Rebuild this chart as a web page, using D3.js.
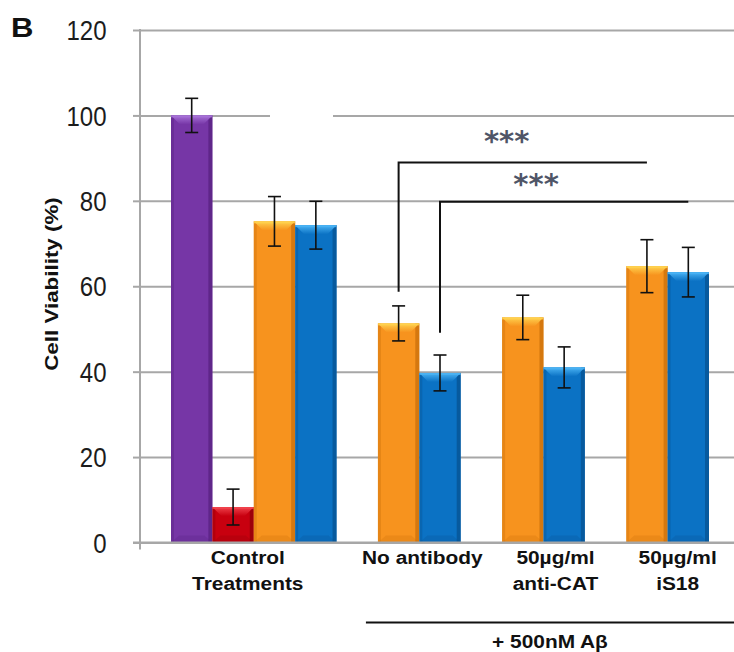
<!DOCTYPE html>
<html>
<head>
<meta charset="utf-8">
<script src="https://cdn.jsdelivr.net/npm/d3@7"></script>
<style>
  body { margin: 0; background: #fff; }
  svg { display: block; }
</style>
</head>
<body>
<svg id="chart" width="734" height="652"></svg>
<script>
// --- data ---
const categoryLines = [["Control", "Treatments"], ["No antibody"], ["50µg/ml", "anti-CAT"], ["50µg/ml", "iS18"]];
const controlValues = [100, 8.3, 75.2, 74.3];
const controlErrors = [4, 4.2, 5.8, 5.6];
const abetaOrange = [51.3, 52.7, 64.7];
const abetaOrangeErr = [4.1, 5.2, 6.2];
const abetaBlue = [39.7, 41, 63.3];
const abetaBlueErr = [4.2, 4.8, 5.8];
const yTicks = [0, 20, 40, 60, 80, 100, 120];
const sigBrackets = [
  { from: "g1-0", to: "g3-0", low: 58.7, high: 89, label: "***" },
  { from: "g1-1", to: "g3-1", low: 49.1, high: 79.8, label: "***" }
];

// --- look ---
const palette = {
  purple: { base: "#7636a6", light: "#a872d8", dark: "#55207e" },
  red:    { base: "#c8000f", light: "#f0424c", dark: "#8a0009" },
  orange: { base: "#f7931e", light: "#ffd24f", dark: "#c66c08" },
  blue:   { base: "#0b72c4", light: "#4ab3f4", dark: "#06508e" }
};
const controlColors = ["purple", "red", "orange", "blue"];
const labelShift = [-6, 3, 12, 10];
const starPos = [{ fx: 0.435, dy: -11 }, { fx: 0.387, dy: -7.5 }];
const plotLeft = 140, plotRight = 734, plotTop = 30, plotBottom = 542.5;

const svg = d3.select("#chart");

// build bar list and slot domain (empty slot between groups)
const bars = [];
controlValues.forEach((v, i) => bars.push({ group: 0, key: "g0-" + i, value: v, err: controlErrors[i], color: controlColors[i] }));
abetaOrange.forEach((v, i) => {
  bars.push({ group: i + 1, key: "g" + (i + 1) + "-0", value: v, err: abetaOrangeErr[i], color: "orange" });
  bars.push({ group: i + 1, key: "g" + (i + 1) + "-1", value: abetaBlue[i], err: abetaBlueErr[i], color: "blue" });
});
const slots = [];
categoryLines.forEach((c, g) => {
  bars.filter(b => b.group === g).forEach(b => slots.push(b.key));
  if (g < categoryLines.length - 1) slots.push("gap" + g);
});

const x = d3.scaleBand().domain(slots).range([171, 709]).padding(0);
const y = d3.scaleLinear().domain([0, 120]).range([plotBottom, plotTop]);
const bw = x.bandwidth();
const cx = key => x(key) + bw / 2;

// gridlines
const grid = svg.append("g")
  .attr("transform", "translate(" + plotLeft + ",0)")
  .call(d3.axisLeft(y).tickValues(yTicks).tickSize(-(plotRight - plotLeft)).tickFormat(""));
grid.select(".domain").remove();
grid.selectAll("line").attr("stroke", "#a7a7a7").attr("stroke-width", 2);

// the gap in the 100 line
svg.append("rect")
  .attr("x", 270).attr("y", y(100) - 3).attr("width", 63).attr("height", 6)
  .attr("fill", "#fff");

// y axis with ticks and labels
const yAxisG = svg.append("g")
  .attr("transform", "translate(" + plotLeft + ",0)")
  .call(d3.axisLeft(y).tickValues(yTicks).tickSize(7).tickPadding(16));
yAxisG.select(".domain").remove();
yAxisG.selectAll(".tick line").attr("stroke", "#a7a7a7").attr("stroke-width", 2);
yAxisG.selectAll(".tick text")
  .attr("font-family", "Liberation Sans, Arial, sans-serif")
  .attr("font-size", 27)
  .attr("fill", "#1c1c1c")
  .attr("dy", "0.36em")
  .attr("transform", "translate(-13,0) scale(0.89,1)");

svg.append("line")
  .attr("x1", plotLeft).attr("x2", plotLeft)
  .attr("y1", plotTop - 1).attr("y2", plotBottom + 7)
  .attr("stroke", "#a7a7a7").attr("stroke-width", 2);

// bars with bevel look
const defs = svg.append("defs");
Object.keys(palette).forEach(k => {
  const gr = defs.append("linearGradient").attr("id", "top-" + k)
    .attr("x1", 0).attr("y1", 0).attr("x2", 0).attr("y2", 1);
  gr.append("stop").attr("offset", "0%").attr("stop-color", palette[k].light);
  gr.append("stop").attr("offset", "100%").attr("stop-color", palette[k].base);
});

const barG = svg.append("g").selectAll("g").data(bars).enter().append("g");

barG.append("rect")
  .attr("x", d => x(d.key)).attr("y", d => y(d.value))
  .attr("width", bw).attr("height", d => y(0) - y(d.value))
  .attr("fill", d => palette[d.color].base);

barG.append("rect")
  .attr("x", d => x(d.key)).attr("y", d => y(d.value))
  .attr("width", 3).attr("height", d => y(0) - y(d.value))
  .attr("fill", d => palette[d.color].dark).attr("opacity", 0.35);

barG.append("rect")
  .attr("x", d => x(d.key) + bw - 4).attr("y", d => y(d.value))
  .attr("width", 4).attr("height", d => y(0) - y(d.value))
  .attr("fill", d => palette[d.color].dark).attr("opacity", 0.7);

barG.append("path")
  .attr("d", d => {
    const x0 = x(d.key), t = y(d.value);
    return "M" + x0 + "," + t + "H" + (x0 + bw) + "L" + (x0 + bw - 9) + "," + (t + 9) + "H" + (x0 + 9) + "Z";
  })
  .attr("fill", d => "url(#top-" + d.color + ")");

barG.append("rect")
  .attr("x", d => x(d.key)).attr("y", d => y(d.value))
  .attr("width", bw).attr("height", 2)
  .attr("fill", d => palette[d.color].light).attr("opacity", 0.8);

barG.append("path")
  .attr("d", d => {
    const x0 = x(d.key), b = y(0);
    return "M" + x0 + "," + b + "H" + (x0 + bw) + "L" + (x0 + bw - 8) + "," + (b - 7) + "H" + (x0 + 8) + "Z";
  })
  .attr("fill", d => palette[d.color].dark).attr("opacity", 0.25);

// x axis baseline
svg.append("line")
  .attr("x1", plotLeft - 7).attr("x2", plotRight)
  .attr("y1", y(0)).attr("y2", y(0))
  .attr("stroke", "#a7a7a7").attr("stroke-width", 2);

// error bars
const errG = svg.append("g").attr("stroke", "#111").attr("stroke-width", 1.6);
bars.forEach(d => {
  const c = cx(d.key);
  errG.append("line").attr("x1", c).attr("x2", c).attr("y1", y(d.value + d.err)).attr("y2", y(d.value - d.err));
  errG.append("line").attr("x1", c - 6.5).attr("x2", c + 6.5).attr("y1", y(d.value + d.err)).attr("y2", y(d.value + d.err));
  errG.append("line").attr("x1", c - 6.5).attr("x2", c + 6.5).attr("y1", y(d.value - d.err)).attr("y2", y(d.value - d.err));
});

// significance brackets
sigBrackets.forEach((s, i) => {
  const x1 = cx(s.from), x2 = cx(s.to);
  svg.append("path")
    .attr("d", "M" + x1 + "," + y(s.low) + "V" + y(s.high) + "H" + x2)
    .attr("fill", "none").attr("stroke", "#111").attr("stroke-width", 2);
  svg.append("text")
    .attr("x", x1 + (x2 - x1) * starPos[i].fx)
    .attr("y", y(s.high) + starPos[i].dy)
    .attr("text-anchor", "middle")
    .attr("font-family", "DejaVu Sans, sans-serif")
    .attr("font-weight", "bold")
    .attr("font-size", 29)
    .attr("fill", "#4f5567")
    .text(s.label);
});

// category labels
const labelFont = "Liberation Sans, Arial, sans-serif";
function stretchedText(parent, px, py, str, size, sx) {
  parent.append("g")
    .attr("transform", "translate(" + px + "," + py + ") scale(" + sx + ",1)")
    .append("text")
    .attr("text-anchor", "middle")
    .attr("font-family", labelFont)
    .attr("font-weight", "bold")
    .attr("font-size", size)
    .attr("fill", "#111")
    .text(str);
}
categoryLines.forEach((lines, g) => {
  const keys = bars.filter(b => b.group === g).map(b => b.key);
  const center = d3.mean(keys, cx) + labelShift[g];
  lines.forEach((ln, j) => stretchedText(svg, center, 564 + j * 26, ln, 18, 1.16));
});

// + 500nM Aβ bracket
const abStart = x("g1-0") - 12;
svg.append("line")
  .attr("x1", abStart).attr("x2", plotRight)
  .attr("y1", 622.5).attr("y2", 622.5)
  .attr("stroke", "#111").attr("stroke-width", 2);
stretchedText(svg, (abStart + plotRight) / 2, 648, "+ 500nM Aβ", 18, 1.16);

// y title
svg.append("g")
  .attr("transform", "translate(58,284) rotate(-90) scale(1.28,1)")
  .append("text")
  .attr("text-anchor", "middle")
  .attr("font-family", labelFont)
  .attr("font-weight", "bold")
  .attr("font-size", 17.5)
  .attr("fill", "#111")
  .text("Cell Viability (%)");

// panel letter
svg.append("g")
  .attr("transform", "translate(11,37) scale(1.15,1)")
  .append("text")
  .attr("font-family", labelFont)
  .attr("font-weight", "bold")
  .attr("font-size", 27)
  .attr("fill", "#111")
  .text("B");
</script>
</body>
</html>
